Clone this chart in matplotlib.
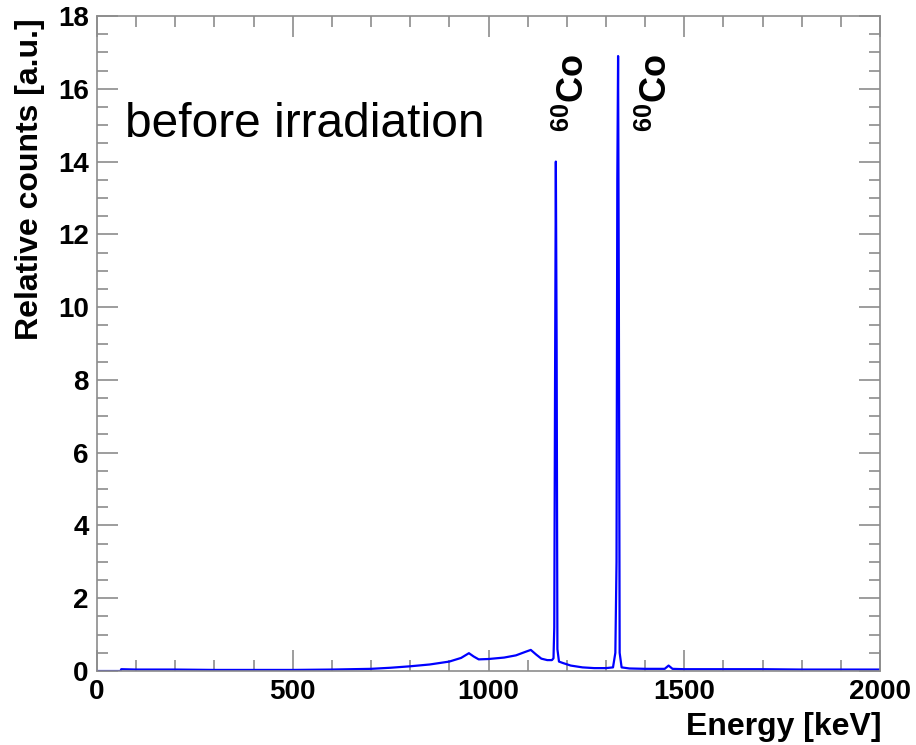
import matplotlib
matplotlib.use("Agg")
import matplotlib.pyplot as plt
from matplotlib.ticker import MultipleLocator

# gamma spectrum, Co-60 source
energy = [0, 60, 62, 100, 200, 300, 400, 500, 600, 700, 750, 800, 850, 900,
          930, 950, 962, 975, 1000, 1040, 1070, 1095, 1108, 1122, 1135, 1150,
          1162, 1166, 1168, 1170, 1172, 1174, 1176, 1180, 1190, 1210, 1240,
          1270, 1300, 1318, 1324, 1327, 1329, 1331, 1333, 1335, 1340, 1360,
          1400, 1450, 1460, 1470, 1500, 1600, 1700, 1800, 1900, 2000]
counts = [0, 0, 0.05, 0.04, 0.04, 0.03, 0.03, 0.03, 0.04, 0.06, 0.09, 0.13,
          0.18, 0.26, 0.36, 0.49, 0.40, 0.32, 0.33, 0.37, 0.43, 0.53, 0.58,
          0.45, 0.34, 0.30, 0.30, 0.35, 1.2, 8.0, 14.0, 9.0, 0.6, 0.26, 0.22,
          0.15, 0.10, 0.08, 0.08, 0.10, 0.5, 3.0, 13.5, 16.9, 10.0, 0.5, 0.10,
          0.07, 0.06, 0.06, 0.15, 0.06, 0.05, 0.05, 0.05, 0.04, 0.04, 0.04]

# where the isotope tags sit (keV)
label_energy = [1218, 1430]
peak_labels = [r"$^{60}$Co", r"$^{60}$Co"]

plt.rcParams["font.family"] = ["Liberation Sans", "DejaVu Sans"]
plt.rcParams["mathtext.fontset"] = "custom"
plt.rcParams["mathtext.rm"] = "Liberation Sans:bold"
plt.rcParams["mathtext.it"] = "Liberation Sans:bold"
plt.rcParams["mathtext.bf"] = "Liberation Sans:bold"

fig = plt.figure(figsize=(9.16, 7.45), dpi=100)
ax = fig.add_axes([0.1059, 0.0993, 0.8548, 0.8792])

ax.plot(energy, counts, color="#0000ff", lw=1.6)

ax.set_xlim(0, 2000)
ax.set_ylim(0, 18)
ax.xaxis.set_major_locator(MultipleLocator(500))
ax.xaxis.set_minor_locator(MultipleLocator(100))
ax.yaxis.set_major_locator(MultipleLocator(2))
ax.yaxis.set_minor_locator(MultipleLocator(0.5))

grey = "#8c8c8c"
for s in ax.spines.values():
    s.set_color(grey)
    s.set_linewidth(1.2)
ax.tick_params(which="both", direction="in", top=True, right=True,
               color=grey, width=1.2)
ax.tick_params(which="major", length=15, labelsize=20, pad=6)
ax.tick_params(which="minor", length=8)
for lab in ax.get_xticklabels() + ax.get_yticklabels():
    lab.set_fontweight("bold")

fig.text(30 / 916, 1 - 18 / 745, "Relative counts [a.u.]", rotation=90,
         ha="center", va="top", fontsize=23, fontweight="bold")
fig.text(881 / 916, 1 - 742 / 745, "Energy [keV]", ha="right",
         va="bottom", fontsize=23, fontweight="bold")

ax.text(0.036, 0.815, "before irradiation", transform=ax.transAxes,
        fontsize=34.5, ha="left", va="baseline")

for e, lab in zip(label_energy, peak_labels):
    ax.text(e, 16.95, lab, rotation=90, ha="center", va="top",
            fontsize=26, fontweight="bold")

fig.savefig("out.png", dpi=100)
